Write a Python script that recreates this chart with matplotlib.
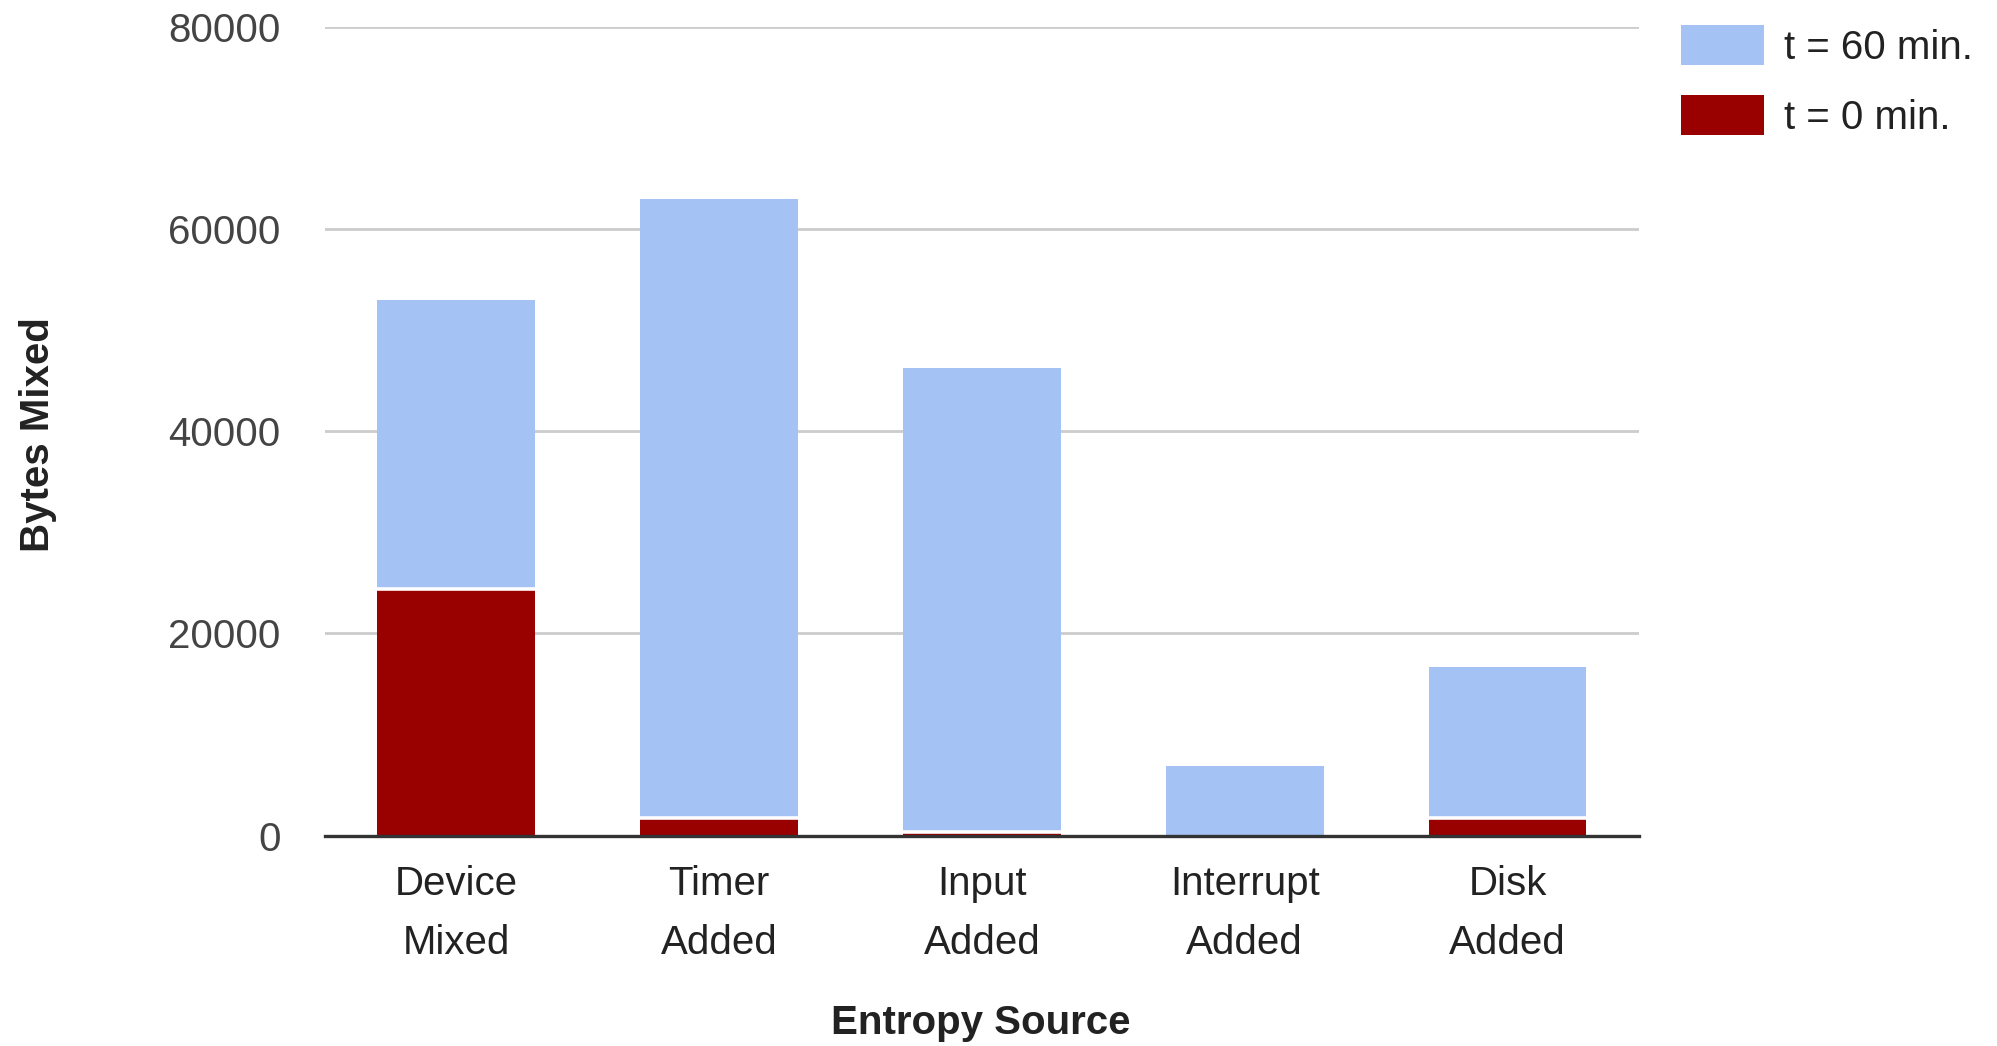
import matplotlib
matplotlib.use("Agg")
import matplotlib.pyplot as plt
from matplotlib.patches import Patch

categories = ["Device\nMixed", "Timer\nAdded", "Input\nAdded", "Interrupt\nAdded", "Disk\nAdded"]
t60 = [53000, 63000, 46200, 6900, 16700]
t0 = [24400, 1700, 400, 0, 1700]
yticks = [0, 20000, 40000, 60000, 80000]

blue = "#A4C2F4"
red = "#990000"

plt.rcParams['font.family'] = ['Liberation Sans', 'DejaVu Sans']

fig = plt.figure(figsize=(19.97, 10.46), dpi=100)
ax = fig.add_axes([0.1627, 0.2012, 0.8207 - 0.1627, 0.9745 - 0.2012])

x = list(range(len(categories)))
w = 0.6
ax.bar(x, t60, width=w, color=blue, zorder=2)
ax.bar(x, t0, width=w, color=red, zorder=3)
for xi, v in zip(x, t0):
    if v > 0:
        ax.hlines(v, xi - w / 2, xi + w / 2, color="white", linewidth=2.6, zorder=4)

ax.set_xlim(-0.5, len(categories) - 0.5)
ax.set_ylim(0, 80000)
ax.set_yticks(yticks)
ax.set_yticklabels([str(v) for v in yticks])
ax.set_xticks(x)
ax.set_xticklabels(categories, linespacing=1.72)

ax.yaxis.grid(True, color="#cccccc", linewidth=2.0, zorder=0)
ax.set_axisbelow(True)
for s in ["top", "right", "left"]:
    ax.spines[s].set_visible(False)
ax.spines["bottom"].set_color("#333333")
ax.spines["bottom"].set_linewidth(2.4)
ax.spines["bottom"].set_zorder(5)

ax.tick_params(axis="y", length=0, pad=32, labelsize=29, labelcolor="#444444")
ax.tick_params(axis="x", length=0, pad=21, labelsize=29, labelcolor="#222222")

fig.text(0.491, 0.011, "Entropy Source", ha="center", va="baseline",
         fontsize=29, fontweight="bold", color="#222222")
fig.text(0.019, 0.585, "Bytes Mixed", ha="center", va="center", rotation=90,
         fontsize=29, fontweight="bold", color="#222222")

handles = [Patch(facecolor=blue, edgecolor="none"), Patch(facecolor=red, edgecolor="none")]
fig.legend(handles, ["t = 60 min.", "t = 0 min."], loc="upper left",
           bbox_to_anchor=(0.842, 0.976), frameon=False, fontsize=29,
           handlelength=2.05, handleheight=1.15, handletextpad=0.5,
           labelspacing=0.7, borderpad=0, borderaxespad=0, labelcolor="#222222")

fig.savefig("out.png", dpi=100)
